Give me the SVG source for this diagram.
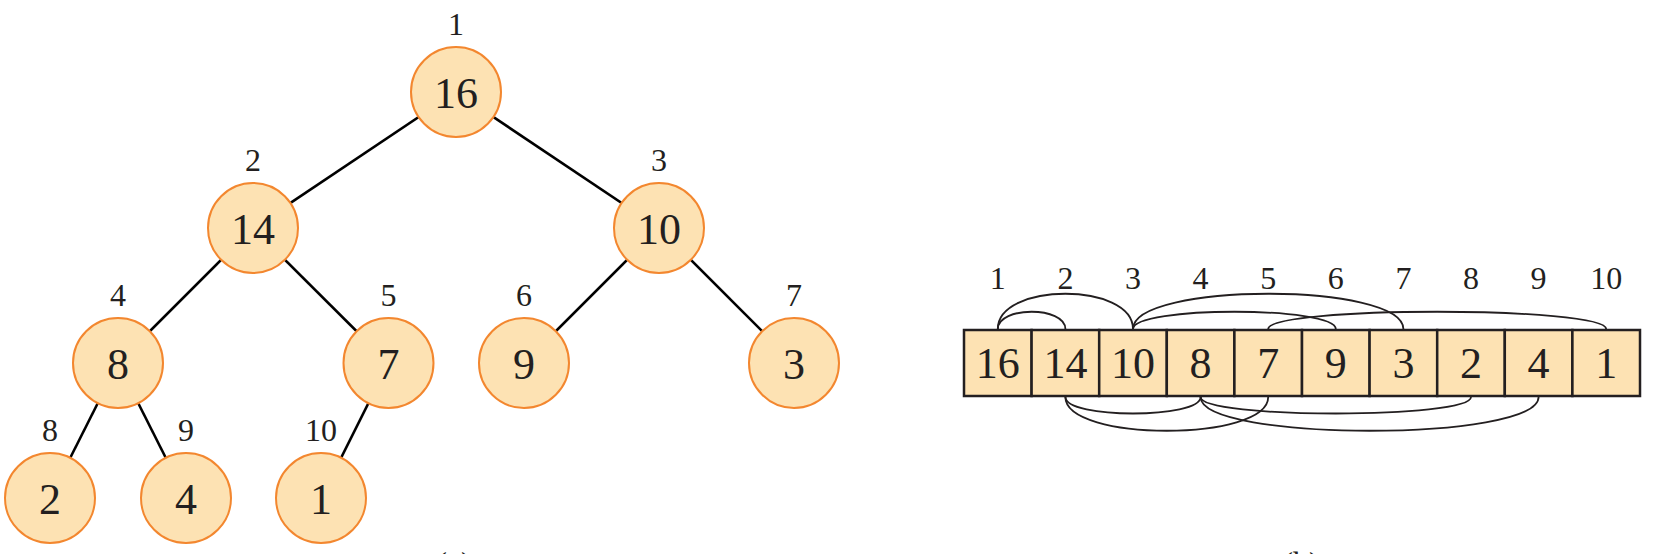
<svg xmlns="http://www.w3.org/2000/svg" width="1662" height="554" viewBox="0 0 1662 554">
<style>
  .node { fill: #fde2b3; stroke: #f3872f; stroke-width: 2; }
  .cell { fill: #fde2b3; stroke: #231f20; stroke-width: 2.5; }
  .edge { stroke: #000; stroke-width: 2.6; fill: none; }
  .arc { stroke: #231f20; stroke-width: 1.8; fill: none; }
  .val { font-family: "Liberation Serif", "Times New Roman", serif; font-size: 44px; fill: #231f20; text-anchor: middle; }
  .idx { font-family: "Liberation Serif", "Times New Roman", serif; font-size: 32px; fill: #231f20; text-anchor: middle; }
</style>
<rect x="0" y="0" width="1662" height="554" fill="#ffffff"/>

<g id="connectors">
  <line class="edge" x1="456" y1="92" x2="253" y2="228"/>
  <line class="edge" x1="456" y1="92" x2="659" y2="228"/>
  <line class="edge" x1="253" y1="228" x2="118" y2="363"/>
  <line class="edge" x1="253" y1="228" x2="388.5" y2="363"/>
  <line class="edge" x1="659" y1="228" x2="524" y2="363"/>
  <line class="edge" x1="659" y1="228" x2="794" y2="363"/>
  <line class="edge" x1="118" y1="363" x2="50" y2="498"/>
  <line class="edge" x1="118" y1="363" x2="186" y2="498"/>
  <line class="edge" x1="388.5" y1="363" x2="321" y2="498"/>
</g>

<g id="node1"><circle class="node" cx="456" cy="92" r="45"/><text class="val" x="456" y="108">16</text><text class="idx" x="456" y="35">1</text></g>
<g id="node2"><circle class="node" cx="253" cy="228" r="45"/><text class="val" x="253" y="244">14</text><text class="idx" x="253" y="171">2</text></g>
<g id="node3"><circle class="node" cx="659" cy="228" r="45"/><text class="val" x="659" y="244">10</text><text class="idx" x="659" y="171">3</text></g>
<g id="node4"><circle class="node" cx="118" cy="363" r="45"/><text class="val" x="118" y="379">8</text><text class="idx" x="118" y="306">4</text></g>
<g id="node5"><circle class="node" cx="388.5" cy="363" r="45"/><text class="val" x="388.5" y="379">7</text><text class="idx" x="388.5" y="306">5</text></g>
<g id="node6"><circle class="node" cx="524" cy="363" r="45"/><text class="val" x="524" y="379">9</text><text class="idx" x="524" y="306">6</text></g>
<g id="node7"><circle class="node" cx="794" cy="363" r="45"/><text class="val" x="794" y="379">3</text><text class="idx" x="794" y="306">7</text></g>
<g id="node8"><circle class="node" cx="50" cy="498" r="45"/><text class="val" x="50" y="514">2</text><text class="idx" x="50" y="441">8</text></g>
<g id="node9"><circle class="node" cx="186" cy="498" r="45"/><text class="val" x="186" y="514">4</text><text class="idx" x="186" y="441">9</text></g>
<g id="node10"><circle class="node" cx="321" cy="498" r="45"/><text class="val" x="321" y="514">1</text><text class="idx" x="321" y="441">10</text></g>

<text class="idx" x="454" y="574">(a)</text>

<g id="array">
  <g id="cell1"><rect class="cell" x="964" y="330" width="67.6" height="66"/><text class="val" x="997.8" y="378">16</text><text class="idx" x="997.8" y="289">1</text></g>
  <g id="cell2"><rect class="cell" x="1031.6" y="330" width="67.6" height="66"/><text class="val" x="1065.4" y="378">14</text><text class="idx" x="1065.4" y="289">2</text></g>
  <g id="cell3"><rect class="cell" x="1099.2" y="330" width="67.6" height="66"/><text class="val" x="1133" y="378">10</text><text class="idx" x="1133" y="289">3</text></g>
  <g id="cell4"><rect class="cell" x="1166.8" y="330" width="67.6" height="66"/><text class="val" x="1200.6" y="378">8</text><text class="idx" x="1200.6" y="289">4</text></g>
  <g id="cell5"><rect class="cell" x="1234.4" y="330" width="67.6" height="66"/><text class="val" x="1268.2" y="378">7</text><text class="idx" x="1268.2" y="289">5</text></g>
  <g id="cell6"><rect class="cell" x="1302" y="330" width="67.6" height="66"/><text class="val" x="1335.8" y="378">9</text><text class="idx" x="1335.8" y="289">6</text></g>
  <g id="cell7"><rect class="cell" x="1369.6" y="330" width="67.6" height="66"/><text class="val" x="1403.4" y="378">3</text><text class="idx" x="1403.4" y="289">7</text></g>
  <g id="cell8"><rect class="cell" x="1437.2" y="330" width="67.6" height="66"/><text class="val" x="1471" y="378">2</text><text class="idx" x="1471" y="289">8</text></g>
  <g id="cell9"><rect class="cell" x="1504.8" y="330" width="67.6" height="66"/><text class="val" x="1538.6" y="378">4</text><text class="idx" x="1538.6" y="289">9</text></g>
  <g id="cell10"><rect class="cell" x="1572.4" y="330" width="67.6" height="66"/><text class="val" x="1606.2" y="378">1</text><text class="idx" x="1606.2" y="289">10</text></g>
</g>

<g id="array-connectors">
  <path class="arc" d="M997.8,329 C997.8,306 1065.4,306 1065.4,329"/>
  <path class="arc" d="M997.8,329 C997.8,282 1133,282 1133,329"/>
  <path class="arc" d="M1133,329 C1133,306 1335.8,306 1335.8,329"/>
  <path class="arc" d="M1133,329 C1133,282 1403.4,282 1403.4,329"/>
  <path class="arc" d="M1268.2,329 C1268.2,306 1606.2,306 1606.2,329"/>
  <path class="arc" d="M1065.4,397 C1065.4,419 1200.6,419 1200.6,397"/>
  <path class="arc" d="M1065.4,397 C1065.4,442 1268.2,442 1268.2,397"/>
  <path class="arc" d="M1200.6,397 C1200.6,419 1471,419 1471,397"/>
  <path class="arc" d="M1200.6,397 C1200.6,442 1538.6,442 1538.6,397"/>
</g>

<text class="idx" x="1301" y="574">(b)</text>
</svg>
